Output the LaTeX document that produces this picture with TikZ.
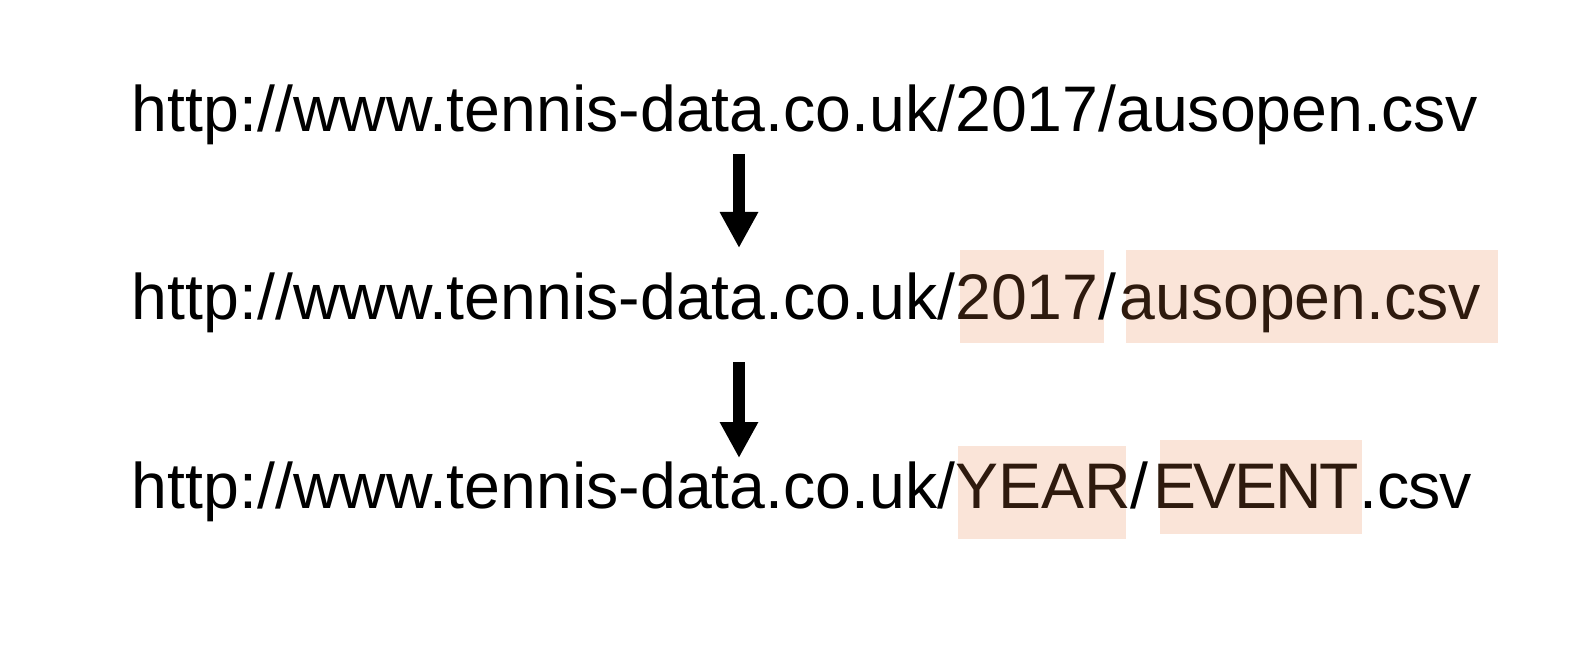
\documentclass[tikz,border=0pt]{standalone}
\usepackage{fontspec}
\setmainfont{Liberation Sans}
\usetikzlibrary{arrows.meta}
\definecolor{hlfill}{HTML}{FAE4D8}
\definecolor{hltext}{HTML}{2E1A0E}
\tikzset{
  urltext/.style={inner sep=0pt, anchor=base west, text=black,
    font=\fontsize{64.4}{77}\selectfont},
  hlbox/.style={fill=hlfill, draw=none},
  downarrow/.style={line width=12pt, black,
    -{Triangle[length=36pt,width=36pt]}}
}
\newcommand{\hl}[1]{\textcolor{hltext}{#1}}
\begin{document}
\begin{tikzpicture}[x=1pt,y=-1pt]
  \useasboundingbox (0,0) rectangle (1596,660);
  % highlight boxes
  \fill[hlbox] (960,250) rectangle (1104,343);
  \fill[hlbox] (1126,250) rectangle (1498,343);
  \fill[hlbox] (958,446) rectangle (1126,539);
  \fill[hlbox] (1160,440) rectangle (1362,534);
  % text lines
  \node[urltext] (l1) at (131.75,132) {http://www.tennis-data.co.uk/2017/ausopen.csv};
  \node[urltext] (l2) at (131.75,320) {http://www.tennis-data.co.uk/\hl{2017}/\kern3pt\hl{ausopen.csv}};
  \node[urltext] (l3) at (131.75,508) {http://www.tennis-data.co.uk/\hl{YEAR}/\kern4.5pt\hl{E\kern-2.2ptV\kern-2.2ptE\kern-2.2ptN\kern-2.2ptT}\kern1pt.c\kern-1.4pts\kern-1.4ptv};
  % arrows
  \coordinate (a1s) at (739,154);
  \coordinate (a1e) at (739,248);
  \coordinate (a2s) at (739,362);
  \coordinate (a2e) at (739,458);
  \draw[downarrow] (a1s) -- (a1e);
  \draw[downarrow] (a2s) -- (a2e);
\end{tikzpicture}
\end{document}
